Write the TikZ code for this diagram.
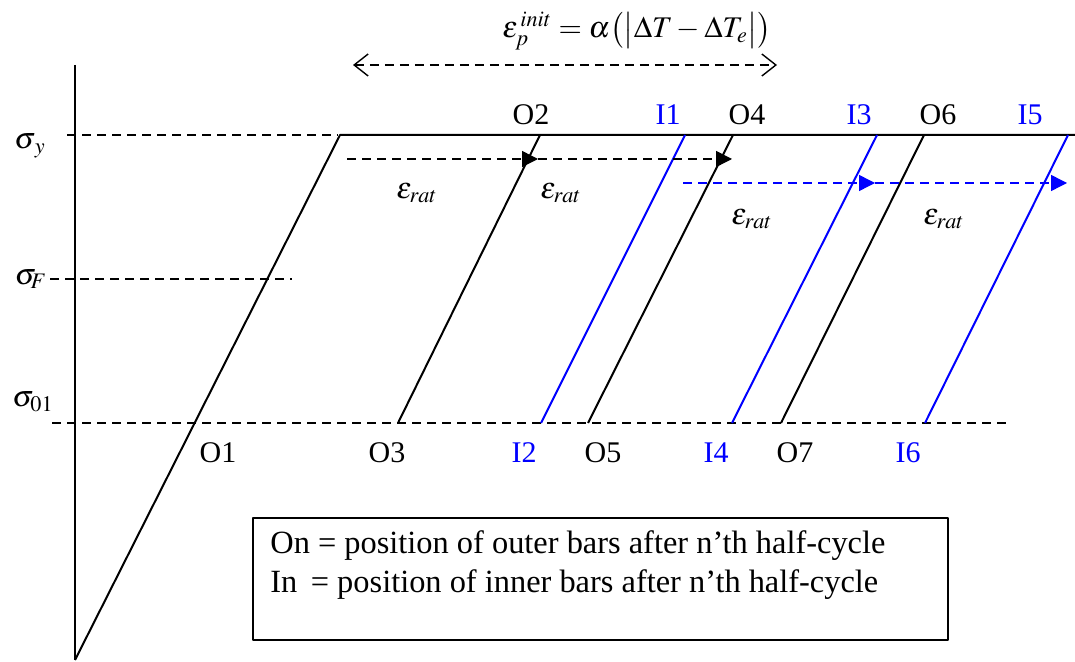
\documentclass[tikz,border=0pt]{standalone}
\usepackage{mathptmx}
\usepackage{fontspec}
\setmainfont{Liberation Serif}
\usetikzlibrary{arrows.meta}
\tikzset{
  lbl/.style={font=\fontsize{15}{19}\selectfont, inner sep=1pt},
  bluelbl/.style={lbl, text=blue},
  guide/.style={dashed, dash pattern=on 4.5pt off 3pt, line width=0.7pt},
  bar/.style={line width=1pt},
  ratchet/.style={guide, -{Triangle[length=8pt,width=8pt]}}
}
\begin{document}
\begin{tikzpicture}[x=0.5pt,y=-0.5pt,line cap=butt,line join=round]
\useasboundingbox (0,0) rectangle (1075,662);

% axis and loading branch
\coordinate (ax0) at (75,65);
\coordinate (ax1) at (75,660);
\coordinate (Y) at (340,135);
\coordinate (Yend) at (1075,135);

% bottom points (sigma_01 level) and top points (sigma_y level)
\coordinate (O3) at (398,423);  \coordinate (O2) at (540,135);
\coordinate (O5) at (588,423);  \coordinate (O4) at (733,135);
\coordinate (O7) at (781,423);  \coordinate (O6) at (924,135);
\coordinate (I2) at (541,423);  \coordinate (I1) at (685,135);
\coordinate (I4) at (732,423);  \coordinate (I3) at (877,135);
\coordinate (I6) at (925,423);  \coordinate (I5) at (1068,135);

% stress levels
\coordinate (sy0) at (67,135);   \coordinate (sy1) at (338,135);
\coordinate (sf0) at (50,279);   \coordinate (sf1) at (292,279);
\coordinate (s00) at (52,423);   \coordinate (s01) at (1012,423);

\draw[guide] (sy0) -- (sy1);
\draw[guide] (sf0) -- (sf1);
\draw[guide] (s00) -- (s01);

% axis, loading line and yield plateau
\draw[bar] (ax0) -- (ax1);
\draw[bar] (ax1) -- (Y) -- (Yend);

% outer bars (black) and inner bars (blue)
\draw[bar] (O3) -- (O2);
\draw[bar] (O5) -- (O4);
\draw[bar] (O7) -- (O6);
\draw[bar,blue] (I2) -- (I1);
\draw[bar,blue] (I4) -- (I3);
\draw[bar,blue] (I6) -- (I5);

% ratchet arrows
\coordinate (ea0) at (347,159);
\coordinate (ea1) at (538,159);
\coordinate (ea2) at (732,159);
\draw[ratchet] (ea0) -- (ea1);
\draw[ratchet] (ea1) -- (ea2);
\coordinate (eb0) at (683,183);
\coordinate (eb1) at (875,183);
\coordinate (eb2) at (1067,183);
\draw[ratchet,blue] (eb0) -- (eb1);
\draw[ratchet,blue] (eb1) -- (eb2);

% initial plastic strain
\coordinate (ep0) at (353,65);
\coordinate (ep1) at (777,65);
\draw[guide,{Straight Barb[length=7pt,width=11pt]}-{Straight Barb[length=7pt,width=11pt]}] (ep0) -- (ep1);
\node[lbl] (epinit) at (637,31) {$\varepsilon_p^{\,init}=\alpha\bigl(\bigl|\Delta T-\Delta T_e\bigr|\bigr)$};

% labels
\node[lbl] (lsy) at (30,146) {$\sigma_{\,y}$};
\node[lbl] (lsf) at (31,279) {$\sigma_{\!F}$};
\node[lbl] (ls01) at (33,402) {$\sigma_{01}$};

\node[lbl] (er1) at (417,193) {$\varepsilon_{rat}$};
\node[lbl] (er2) at (561,193) {$\varepsilon_{rat}$};
\node[lbl] (er3) at (752,219) {$\varepsilon_{rat}$};
\node[lbl] (er4) at (944,219) {$\varepsilon_{rat}$};

\node[lbl] (lO2) at (531,115) {O2};
\node[bluelbl] (lI1) at (668,115) {I1};
\node[lbl] (lO4) at (747,115) {O4};
\node[bluelbl] (lI3) at (859,115) {I3};
\node[lbl] (lO6) at (938,115) {O6};
\node[bluelbl] (lI5) at (1030,115) {I5};

\node[lbl] (lO1) at (218,453) {O1};
\node[lbl] (lO3) at (387,453) {O3};
\node[bluelbl] (lI2) at (524,453) {I2};
\node[lbl] (lO5) at (603,453) {O5};
\node[bluelbl] (lI4) at (716,453) {I4};
\node[lbl] (lO7) at (795,453) {O7};
\node[bluelbl] (lI6) at (908,453) {I6};

% key
\coordinate (k0) at (253,518);
\coordinate (k1) at (948,640);
\draw[line width=0.8pt] (k0) rectangle (k1);
\node[lbl, font=\fontsize{16.2}{19.5}\selectfont, anchor=north west, align=left] (keytext) at (268,528)
  {On = position of outer bars after n’th half-cycle\\
   In~\,= position of inner bars after n’th half-cycle};

\end{tikzpicture}
\end{document}
